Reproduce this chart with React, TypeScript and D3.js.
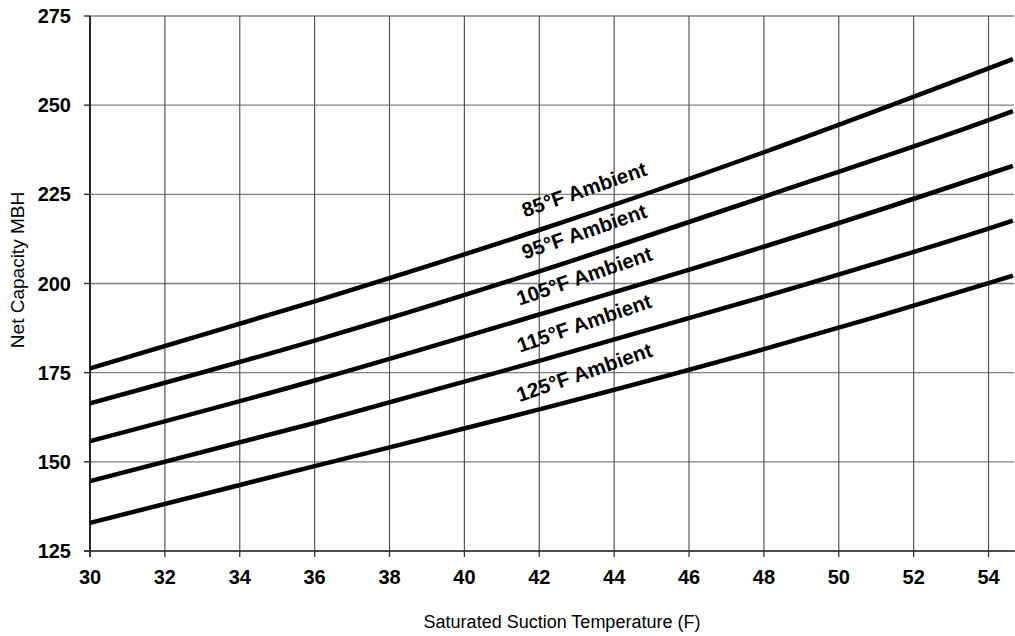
import React from "react";
import * as d3 from "d3";

const temps = [30, 36, 42, 48, 54, 54.65];
const ambient85 = [176.2, 195.0, 215.0, 236.8, 260.3, 262.9];
const ambient95 = [166.4, 184.0, 203.4, 224.3, 245.8, 248.3];
const ambient105 = [155.8, 172.8, 191.3, 210.3, 230.7, 233.0];
const ambient115 = [144.6, 160.9, 178.3, 196.3, 215.4, 217.6];
const ambient125 = [132.9, 148.8, 164.7, 181.6, 200.1, 202.2];
const seriesNames = ["85°F Ambient", "95°F Ambient", "105°F Ambient", "115°F Ambient", "125°F Ambient"];
const seriesValues = [ambient85, ambient95, ambient105, ambient115, ambient125];
const xTicks = [30, 32, 34, 36, 38, 40, 42, 44, 46, 48, 50, 52, 54];
const yTicks = [125, 150, 175, 200, 225, 250, 275];

const W = 1015;
const H = 636;
const left = 90;
const right = 1014;
const top = 16;
const bottom = 551;
const labelX = 43.2;

export default function App() {
  const x = d3.scaleLinear().domain([30, 54.68]).range([left, right]);
  const y = d3.scaleLinear().domain([125, 275]).range([bottom, top]);
  const line = d3
    .line<[number, number]>()
    .x((d) => x(d[0]))
    .y((d) => y(d[1]))
    .curve(d3.curveMonotoneX);

  const font = "'Liberation Sans', Arial, Helvetica, sans-serif";

  return (
    <svg
      width={W}
      height={H}
      style={{ position: "absolute", left: 0, top: 0, background: "#fff" }}
      fontFamily={font}
    >
      {/* horizontal grid */}
      {yTicks.map((t) => (
        <line key={"hy" + t} x1={x(30)} x2={right} y1={y(t)} y2={y(t)} stroke="#808080" strokeWidth={1.3} />
      ))}
      {/* vertical grid */}
      {xTicks.map((t) => (
        <line key={"vx" + t} x1={x(t)} x2={x(t)} y1={top} y2={bottom} stroke="#555" strokeWidth={1.2} />
      ))}
      {/* axes */}
      <line x1={x(30)} x2={x(30)} y1={top} y2={bottom + 6} stroke="#000" strokeWidth={1.5} />
      <line x1={x(30) - 6} x2={right + 2} y1={bottom} y2={bottom} stroke="#333" strokeWidth={1.5} />
      {yTicks.map((t) => (
        <line key={"yt" + t} x1={x(30) - 6} x2={x(30)} y1={y(t)} y2={y(t)} stroke="#333" strokeWidth={1.5} />
      ))}
      {xTicks.map((t) => (
        <line key={"xt" + t} x1={x(t)} x2={x(t)} y1={bottom} y2={bottom + 6} stroke="#333" strokeWidth={1.3} />
      ))}
      {/* tick labels */}
      {yTicks.map((t) => (
        <text
          key={"yl" + t}
          x={71}
          y={y(t)}
          dy="0.35em"
          textAnchor="end"
          fontWeight="bold"
          fontSize={20}
          fill="#000"
        >
          {t}
        </text>
      ))}
      {xTicks.map((t) => (
        <text
          key={"xl" + t}
          x={x(t)}
          y={583.5}
          textAnchor="middle"
          fontWeight="bold"
          fontSize={20}
          fill="#000"
        >
          {t}
        </text>
      ))}
      {/* series lines */}
      {seriesValues.map((vals, i) => (
        <path
          key={"s" + i}
          d={line(temps.map((t, j) => [t, vals[j]] as [number, number])) || ""}
          fill="none"
          stroke="#000"
          strokeWidth={4.5}
        />
      ))}
      {/* series labels */}
      {seriesValues.map((vals, i) => {
        const interp = d3.scaleLinear().domain(temps).range(vals);
        const px = x(labelX);
        const py = y(interp(labelX)) - 25;
        return (
          <text
            key={"lab" + i}
            x={px}
            y={py}
            dy="0.35em"
            textAnchor="middle"
            fontWeight="bold"
            fontSize={20.5}
            fill="#000"
            transform={`rotate(-19, ${px}, ${py})`}
          >
            {seriesNames[i]}
          </text>
        );
      })}
      {/* axis titles */}
      <text x={562} y={628} textAnchor="middle" fontSize={18} fill="#000">
        Saturated Suction Temperature (F)
      </text>
      <text
        x={24}
        y={270}
        textAnchor="middle"
        fontSize={19}
        fill="#000"
        transform={`rotate(-90, 24, 270)`}
      >
        Net Capacity MBH
      </text>
    </svg>
  );
}
